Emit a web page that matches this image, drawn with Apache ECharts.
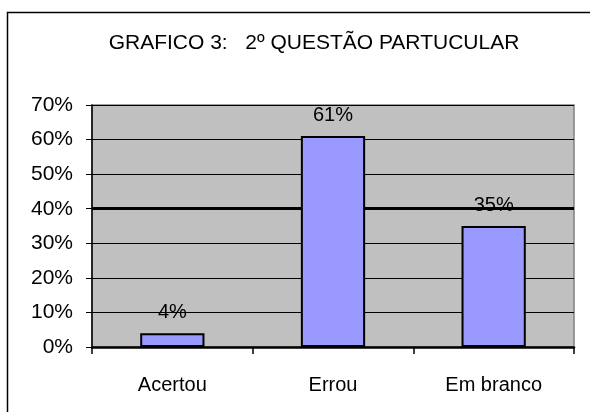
<!DOCTYPE html>
<html>
<head>
<meta charset="utf-8">
<script src="https://cdn.jsdelivr.net/npm/echarts@6/dist/echarts.min.js"></script>
<style>
  html, body { margin: 0; padding: 0; background: #fff; }
  #chart { width: 590px; height: 412px; }
</style>
</head>
<body>
<div id="chart"></div>
<script>
// dados do gráfico
var titulo = 'GRAFICO 3:   2º QUESTÃO PARTUCULAR';
var categorias = ['Acertou', 'Errou', 'Em branco'];
var valores = [4, 61, 35];
var eixoY = { min: 0, max: 70, interval: 10 };

var chart = echarts.init(document.getElementById('chart'));

chart.setOption({
  animation: false,
  textStyle: { fontFamily: 'Liberation Sans, Arial, sans-serif' },
  title: {
    text: titulo,
    left: 309,
    textAlign: 'center',
    top: 28,
    textStyle: { fontSize: 21, fontWeight: 'normal', color: '#000' }
  },
  graphic: [{
    type: 'rect',
    shape: { x: 7.5, y: 12.5, width: 600, height: 420 },
    style: { fill: 'none', stroke: '#000', lineWidth: 1.5 },
    silent: true
  }],
  grid: {
    left: 92,
    right: 16,
    top: 105,
    bottom: 65,
    show: true,
    backgroundColor: '#C0C0C0',
    borderColor: '#808080',
    borderWidth: 1.5
  },
  xAxis: {
    type: 'category',
    data: categorias,
    boundaryGap: true,
    axisLine: { lineStyle: { color: '#000', width: 2.5 } },
    axisTick: { show: true, length: 7, lineStyle: { color: '#000', width: 1.5 } },
    axisLabel: { color: '#000', fontSize: 20, margin: 28 }
  },
  yAxis: {
    type: 'value',
    min: eixoY.min,
    max: eixoY.max,
    interval: eixoY.interval,
    axisLine: { show: true, lineStyle: { color: '#000', width: 1.5 } },
    axisTick: { show: true, length: 6, lineStyle: { color: '#000' } },
    axisLabel: { color: '#000', fontSize: 21, margin: 19, formatter: '{value}%' },
    splitLine: { show: true, lineStyle: { color: '#000', width: 1 } }
  },
  series: [{
    type: 'bar',
    data: valores,
    barWidth: '40%',
    z: 3,
    itemStyle: { color: '#9999FF', borderColor: '#000', borderWidth: 2 },
    label: {
      show: true,
      position: 'top',
      distance: 11,
      color: '#000',
      fontSize: 20,
      formatter: '{c}%'
    }
  }, {
    // linha mais grossa em 40%, atrás das barras
    type: 'line',
    data: [],
    z: 1,
    markLine: {
      silent: true,
      symbol: 'none',
      z: 1,
      label: { show: false },
      lineStyle: { color: '#000', width: 3, type: 'solid' },
      data: [{ yAxis: 40 }]
    }
  }]
});
</script>
</body>
</html>
